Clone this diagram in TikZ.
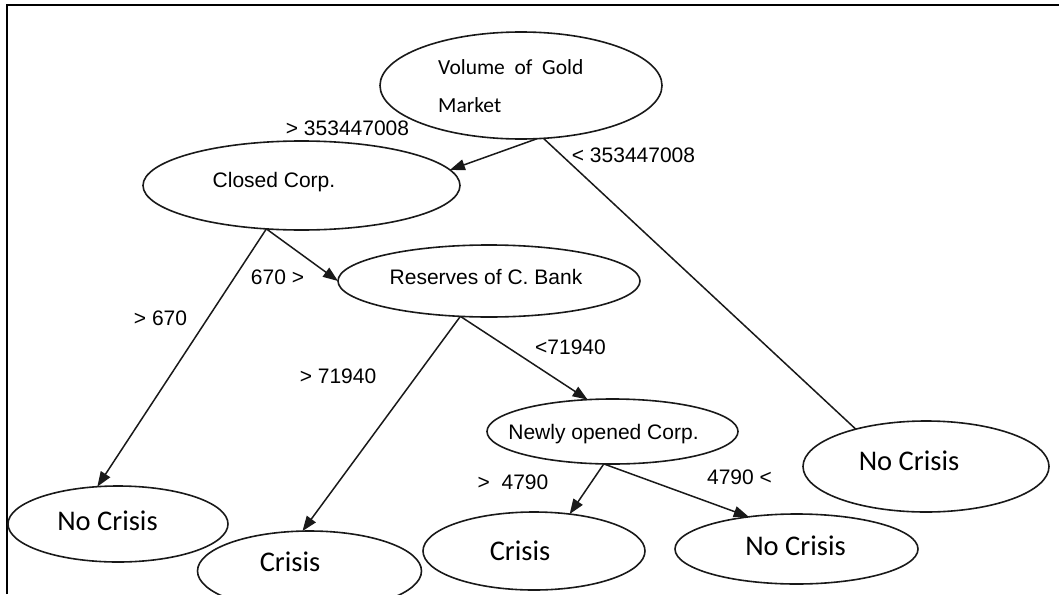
\documentclass[tikz,border=0pt]{standalone}
\usepackage{fontspec}
\setmainfont{Liberation Sans}
\newfontfamily\calibfont{Carlito}
\usetikzlibrary{shapes.geometric,arrows.meta}
\begin{document}
\begin{tikzpicture}[x=1pt,y=-1pt,
  ell/.style={draw=black!90, ellipse, line width=1.6pt, inner sep=0pt, outer sep=0pt},
  conn/.style={line width=1.5pt, draw=black!90},
  arr/.style={conn, -{Triangle[length=15pt,width=11pt]}},
  lab/.style={font=\fontsize{21}{25}\selectfont, anchor=base, inner sep=0pt},
  big/.style={font=\calibfont\fontsize{28.5}{32}\selectfont, anchor=base, inner sep=0pt},
]
\useasboundingbox (0,0) rectangle (1059,594);
\draw[line width=2.4pt] (7,594) -- (7,5) -- (1059,5);

% ellipses
\node[ell, minimum width=282pt, minimum height=107pt] (vol) at (521,85.5) {};
\node[ell, minimum width=317pt, minimum height=89pt] (closed) at (301.5,185.5) {};
\node[ell, minimum width=302pt, minimum height=72pt] (res) at (489,281) {};
\node[ell, minimum width=251pt, minimum height=65pt] (new) at (612.5,431.5) {};
\node[ell, minimum width=220pt, minimum height=76pt] (nc1) at (118,524) {};
\node[ell, minimum width=224pt, minimum height=80pt] (c1) at (309.5,571) {};
\node[ell, minimum width=222pt, minimum height=78pt] (c2) at (534,551) {};
\node[ell, minimum width=243pt, minimum height=70pt] (nc2) at (796.5,549) {};
\node[ell, minimum width=246pt, minimum height=91pt] (nc3) at (926,466.5) {};

% texts inside ellipses
\node[font=\calibfont\fontsize{21.5}{38}\selectfont, align=left, anchor=west, inner sep=0pt] (tvol) at (438,86) {Volume\ \ of\ \ Gold\\Market};
\node[lab] (tclosed) at (274,187.5) {Closed Corp.};
\node[lab] (tres) at (486,284.5) {Reserves of C. Bank};
\node[lab] (tnew) at (603.5,439.5) {Newly opened Corp.};
\node[big] (tnc1) at (107.5,530) {No Crisis};
\node[big] (tc1) at (290,571) {Crisis};
\node[big] (tc2) at (520,560) {Crisis};
\node[big] (tnc2) at (795.5,555) {No Crisis};
\node[big] (tnc3) at (909,470) {No Crisis};

% branch labels
\node[lab] (l1) at (347.5,135.5) {> 353447008};
\node[lab] (l2) at (633.5,162.5) {< 353447008};
\node[lab] (l3) at (277.5,284.5) {670 >};
\node[lab] (l4) at (160.5,325.5) {> 670};
\node[lab] (l5) at (338,383.5) {> 71940};
\node[lab] (l6) at (570.5,354.5) {<71940};
\node[lab] (l7) at (513,489.5) {>\ \ 4790};
\node[lab] (l8) at (739.5,484.5) {4790 <};

% connectors
\draw[arr] (vol.-73) -- (closed.6);
\draw[conn] (vol.-67) -- (nc3.152);
\draw[arr] (closed.231) -- (nc1.119);
\draw[arr] (closed.231) -- (res.180);
\draw[arr] (res.231) -- (c1.100);
\draw[arr] (res.231) -- (new.128);
\draw[arr] (new.255) -- (c2.46);
\draw[arr] (new.255) -- (nc2.146);
\end{tikzpicture}
\end{document}
